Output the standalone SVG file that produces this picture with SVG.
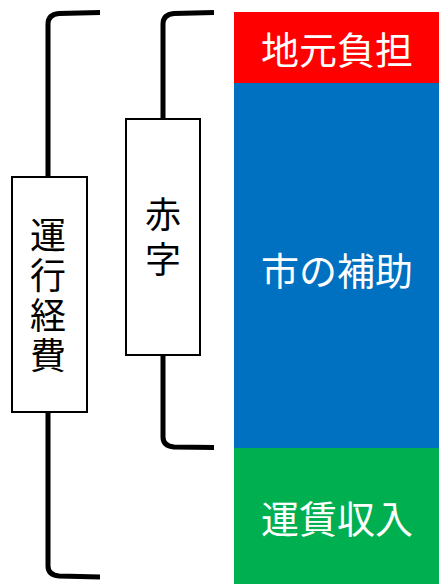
<svg xmlns="http://www.w3.org/2000/svg" width="439" height="584" viewBox="0 0 439 584">
<style>
.br{fill:none;stroke:#000;stroke-width:5;stroke-linecap:butt}
.box{fill:#fff;stroke:#000;stroke-width:2}
.bt{font-family:"Noto Sans CJK JP","Noto Sans",sans-serif;font-size:36px;fill:#000;text-anchor:middle;writing-mode:vertical-rl;glyph-orientation-vertical:0}
.wt{font-family:"Noto Sans CJK JP","Noto Sans",sans-serif;font-size:38px;fill:#fff;text-anchor:middle;dominant-baseline:central}
</style>
<rect width="439" height="584" fill="#fff"/>
<g id="connectors">
<path class="br" d="M100,12.5 L59,13.5 Q48,14.5 48,24 L48,178"/>
<path class="br" d="M48,411 L48,566 Q48,575 59,576 L100,577"/>
<path class="br" d="M214,12.5 L174,13.5 Q163,14.5 163,24 L163,120"/>
<path class="br" d="M163,354 L163,437 Q163,446 174,447 L214,447.5"/>
</g>
<g id="jimoto">
<rect x="234" y="12" width="205" height="71" fill="#ff0000"/>
<text class="wt" x="337" y="47">地元負担</text>
</g>
<g id="shi">
<rect x="234" y="83" width="205" height="365" fill="#0070c0"/>
<text class="wt" x="337" y="268">市の補助</text>
</g>
<g id="unchin">
<rect x="234" y="448" width="205" height="136" fill="#00b050"/>
<text class="wt" x="337" y="516">運賃収入</text>
</g>
<g id="unkou">
<rect class="box" x="12" y="177" width="75" height="235"/>
<text class="bt" x="48" y="297" letter-spacing="4">運行経費</text>
</g>
<g id="akaji">
<rect class="box" x="126" y="119" width="74" height="236"/>
<text class="bt" x="163" y="241" letter-spacing="9">赤字</text>
</g>
</svg>
